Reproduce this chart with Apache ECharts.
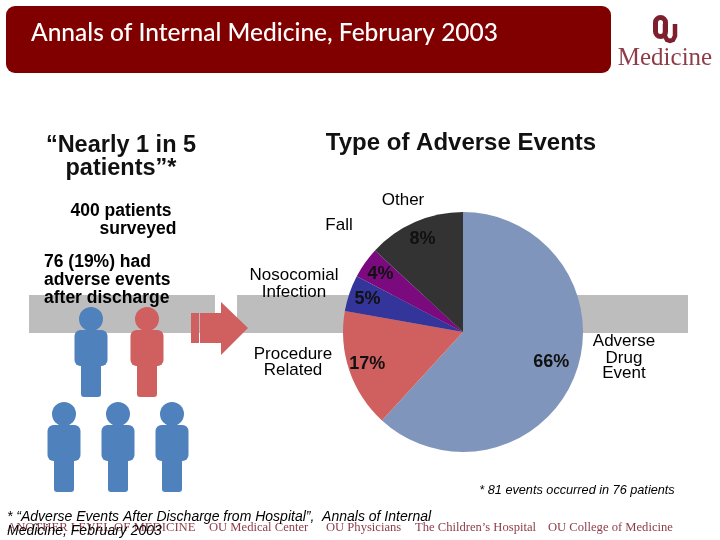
<!DOCTYPE html>
<html><head><meta charset="utf-8">
<style>html,body{margin:0;padding:0;background:#fff}#c{width:720px;height:540px}</style>
<script src="https://cdn.jsdelivr.net/npm/echarts@6/dist/echarts.min.js"></script>
</head><body><div id="c"></div>
<script>
const categories = ['Adverse Drug Event','Procedure Related','Nosocomial Infection','Fall','Other'];
const sliceValues = [61.8,16,4.9,4.2,13.1];
const percentLabels = ['66%','17%','5%','4%','8%'];
const sliceColors = ['#7f95bc','#d05f5f','#34359a','#7b0a7f','#333333'];

const SANS='"Liberation Sans",Arial,sans-serif', SERIF='"Liberation Serif",serif', MAROON='#8e3d48';
const chart = echarts.init(document.getElementById('c'),null,{renderer:'canvas'});
function T(text,x,y,o={}){return {type:'text',z:20,x,y:y+2.5,style:Object.assign({text,fill:'#000',font:'17px '+SANS,textAlign:'center',textVerticalAlign:'middle'},o)};}
function R(x,y,w,h,fill,r=0,z=5){return {type:'rect',z,shape:{x,y,width:w,height:h,r},style:{fill}};}
function person(cx,top,fill){
  const bodyW=33, legW=20;
  return [
    {type:'circle',z:6,shape:{cx,cy:top+12,r:12},style:{fill}},
    R(cx-bodyW/2,top+23,bodyW,36,fill,6,6),
    R(cx-legW/2,top+50,legW,40,fill,3,6)
  ];
}
const graphics=[
  R(6,6,605,67,'#800000',9,5),
  R(29,295,186,38,'#bdbdbd',0,1),
  R(237,295,451,38,'#bdbdbd',0,1),
  R(191,313,8,30,'#d05f5f',0,6),
  {type:'polygon',z:6,shape:{points:[[200,313],[221,313],[221,302],[248,328],[221,355],[221,343],[200,343]]},style:{fill:'#d05f5f'}},
  ...person(91,307,'#4f81bd'),
  ...person(147,307,'#d05f5f'),
  ...person(64,402,'#4f81bd'),
  ...person(118,402,'#4f81bd'),
  ...person(172,402,'#4f81bd'),
  T('Annals of Internal Medicine, February 2003',31,31,{fill:'#fff',font:'500 24.5px Lato,"Open Sans",sans-serif',textAlign:'left'}),
  {type:'rect',z:7,shape:{x:655.5,y:17.5,width:10,height:19,r:5},style:{fill:'none',stroke:'#7d1f2c',lineWidth:5}},
  {type:'polyline',z:8,shape:{points:[[665,24],[665,36],[667,40],[670,41],[673,40],[675,36],[675,24]]},style:{fill:'none',stroke:'#7d1f2c',lineWidth:4.5}},
  T('Medicine',665,56,{fill:MAROON,font:'25px '+SERIF}),
  T('“Nearly 1 in 5',121,143,{font:'bold 23.5px '+SANS,fill:'#111'}),
  T('patients”*',121,166,{font:'bold 23.5px '+SANS,fill:'#111'}),
  T('400 patients',121,209,{font:'bold 17.5px '+SANS}),
  T('surveyed',138,227,{font:'bold 17.5px '+SANS}),
  T('76 (19%) had',44,260,{font:'bold 17.5px '+SANS,textAlign:'left'}),
  T('adverse events',44,278,{font:'bold 17.5px '+SANS,textAlign:'left'}),
  T('after discharge',44,296,{font:'bold 17.5px '+SANS,textAlign:'left'}),
  T('Type of Adverse Events',461,141,{font:'bold 24px '+SANS,fill:'#111'}),
  T(categories[4],403,198),
  T(categories[3],339,223),
  T('Nosocomial',294,273),
  T('Infection',294,290),
  T('Procedure',293,352),
  T('Related',293,368),
  T('Adverse',624,339),
  T('Drug',624,356),
  T('Event',624,371),
  T('* 81 events occurred in 76 patients',577,488,{font:'italic 12.7px '+SANS}),
  T('ANOTHER LEVEL OF MEDICINE',7,525,{fill:MAROON,font:'12.7px '+SERIF,textAlign:'left'}),
  T('OU Medical Center',209,525,{fill:MAROON,font:'12.6px '+SERIF,textAlign:'left'}),
  T('OU Physicians',326,525,{fill:MAROON,font:'12.6px '+SERIF,textAlign:'left'}),
  T('The Children’s Hospital',415,525,{fill:MAROON,font:'12.6px '+SERIF,textAlign:'left'}),
  T('OU College of Medicine',548,525,{fill:MAROON,font:'12.6px '+SERIF,textAlign:'left'}),
  T('* “Adverse Events After Discharge from Hospital”,  Annals of Internal',7,515,{font:'italic 14px '+SANS,textAlign:'left'}),
  T('Medicine, February 2003',7,529,{font:'italic 14px '+SANS,textAlign:'left'})
];
chart.setOption({
  animation:false,
  backgroundColor:'#fff',
  graphic:{elements:graphics},
  series:[
    {type:'pie',center:[463,332],radius:[0,120],startAngle:90,clockwise:true,z:2,silent:true,
     label:{show:false},labelLine:{show:false},
     data:categories.map((name,i)=>({name,value:sliceValues[i],itemStyle:{color:sliceColors[i]}}))},
    {type:'pie',center:[463,332],radius:[76,120],startAngle:90,clockwise:true,z:3,silent:true,
     itemStyle:{color:'transparent'},labelLine:{show:false},
     label:{show:true,position:'inside',rotate:0,color:'#111',fontFamily:SANS,fontWeight:'bold',fontSize:18,
       formatter:p=>percentLabels[p.dataIndex]},
     data:categories.map((name,i)=>({name,value:sliceValues[i],label:i===0?{offset:[-6,-7]}:undefined}))}
  ]
});
</script></body></html>
